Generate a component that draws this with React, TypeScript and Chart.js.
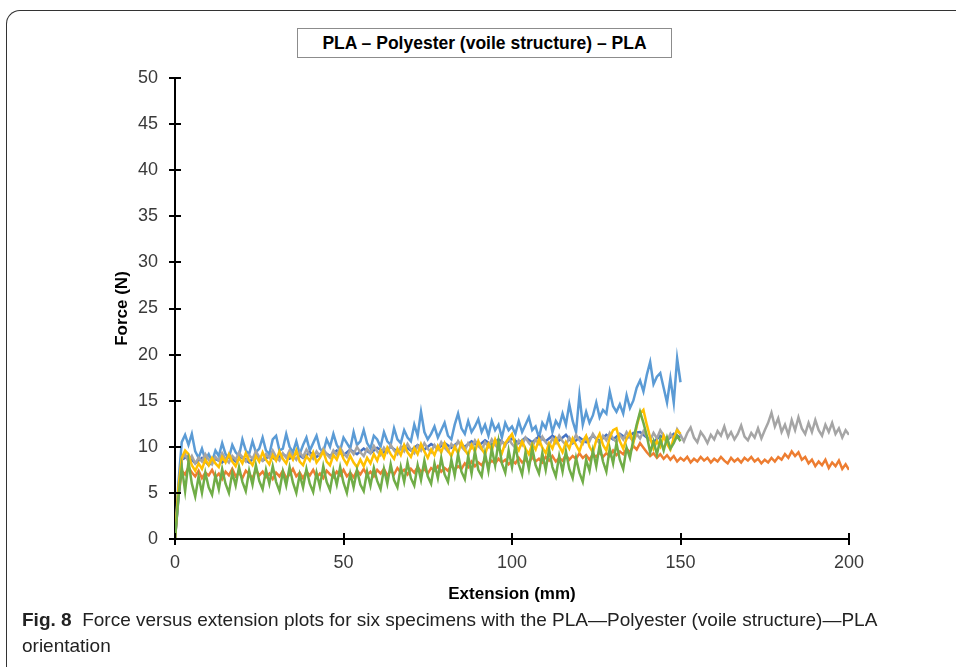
import React, { useEffect, useRef } from "react";
import { Chart, registerables } from "chart.js";

Chart.register(...registerables);

// Sampling step (mm) for each specimen's recorded force values
const STEP = 1;
const STEP_DARK = 2;

const xTicks = [0, 50, 100, 150, 200];
const yTicks = [0, 5, 10, 15, 20, 25, 30, 35, 40, 45, 50];

// Specimen 1 (light blue) 0..150 mm
const specimen1 = [
  0, 6, 10.5, 11.3, 10.2, 11.4, 9.5, 8.8, 9.8, 8.6,
  9.2, 8.4, 9.6, 9.0, 10.4, 9.2, 8.8, 10.2, 9.4, 9.0,
  10.8, 9.6, 9.2, 10.6, 9.4, 9.8, 11.0, 9.6, 9.2, 10.8,
  11.2, 9.6, 9.8, 11.4, 10.0, 9.4, 10.6, 9.2, 10.2, 11.0,
  9.6, 10.4, 11.2, 9.8, 9.4, 10.8, 10.0, 11.4, 10.2, 9.6,
  11.0, 10.4, 9.8, 11.6, 10.2, 10.6, 11.8, 10.4, 9.8, 11.2,
  10.8, 10.0, 11.6, 10.6, 10.2, 12.0, 10.8, 10.4, 11.8, 11.0,
  10.6, 12.4, 11.2, 13.8, 11.6, 10.8, 11.4, 12.2, 11.0, 11.8,
  12.6, 11.2, 10.8, 12.4, 13.6, 12.0, 11.4, 12.8, 11.6, 12.2,
  13.0, 11.6, 12.4, 11.2, 12.8, 11.8, 12.4, 11.0, 12.6, 11.8,
  12.2, 11.4, 12.8, 11.6, 12.4, 13.2, 11.8, 12.2, 11.0, 12.6,
  12.0, 13.4, 11.6, 12.8, 12.2, 13.6, 12.4, 14.6, 12.8, 11.6,
  15.6, 12.4, 13.8, 12.6, 13.4, 14.8, 13.2, 14.0, 13.6, 16.0,
  14.4, 13.8, 14.6, 13.6, 15.6, 14.2, 15.0, 16.4, 17.2, 16.0,
  17.8, 19.2, 16.8, 17.6, 18.0, 16.4, 14.8, 17.4, 14.8, 19.6,
  17.0,
];

// Specimen 2 (orange) 0..200 mm
const specimen2 = [
  0, 4.5, 7.4, 7.0, 7.8, 7.2, 6.8, 7.4, 6.6, 7.2,
  6.9, 7.5, 6.7, 7.1, 6.5, 7.3, 6.9, 7.6, 6.8, 7.2,
  6.6, 7.4, 7.0, 6.6, 7.5, 6.9, 7.3, 6.7, 7.1, 6.5,
  7.2, 6.8, 7.4, 6.6, 7.0, 7.6, 6.8, 7.2, 6.6, 7.3,
  6.9, 7.5, 6.7, 7.1, 6.6, 7.4, 7.0, 6.7, 7.3, 6.9,
  7.5, 6.8, 7.2, 6.7, 7.4, 7.0, 7.6, 6.9, 7.3, 6.8,
  7.5, 7.1, 7.6, 6.9, 7.4, 7.0, 7.7, 7.2, 7.5, 7.0,
  7.6, 7.2, 7.8, 7.3, 7.6, 7.1, 7.7, 7.4, 7.9, 7.3,
  7.7, 7.4, 8.0, 7.5, 7.9, 7.6, 8.2, 7.8, 8.4, 7.9,
  8.3, 8.0, 8.6, 8.1, 8.5, 8.2, 8.7, 8.3, 8.6, 8.1,
  8.5, 8.2, 8.8, 8.3, 8.6, 8.2, 8.9, 8.4, 8.7, 8.3,
  8.9, 8.5, 9.0, 8.4, 8.8, 8.5, 9.1, 8.6, 9.0, 8.7,
  9.3, 8.8, 9.1, 8.6, 9.2, 8.9, 9.4, 8.9, 9.3, 9.0,
  9.6, 9.1, 9.5, 9.2, 9.8, 9.4, 10.1, 9.7, 10.4, 9.9,
  9.4, 9.0, 9.3, 8.8, 9.2, 8.7, 9.1, 8.6, 9.0, 8.4,
  8.8, 8.5, 8.9, 8.3, 8.7, 8.4, 8.9, 8.5, 8.8, 8.3,
  8.7, 8.4, 8.9, 8.5, 8.2, 8.8, 8.4, 8.7, 8.3, 8.8,
  8.5, 8.9, 8.4, 8.7, 8.2, 8.6, 8.3, 8.8, 8.4, 8.9,
  8.6, 9.2, 8.8, 9.5, 9.0, 9.4, 8.6, 8.9, 8.2, 8.6,
  7.9, 8.4, 8.0, 8.6, 7.7, 8.3, 7.9, 8.5, 7.6, 8.1,
  7.5,
];

// Specimen 3 (grey) 0..200 mm
const specimen3 = [
  0, 5, 8.6, 9.2, 8.4, 9.0, 8.2, 8.8, 8.4, 9.2,
  8.6, 8.1, 8.9, 8.5, 9.3, 8.7, 8.3, 9.0, 8.6, 9.4,
  8.8, 8.4, 9.1, 8.7, 9.5, 8.9, 8.5, 9.2, 8.8, 9.6,
  8.9, 8.5, 9.3, 8.8, 9.6, 9.0, 8.6, 9.4, 8.9, 9.7,
  9.1, 8.7, 9.5, 9.0, 9.8, 9.2, 8.8, 9.6, 9.1, 9.9,
  9.3, 8.9, 9.7, 9.2, 10.0, 9.4, 9.0, 9.8, 9.3, 10.1,
  9.5, 9.1, 9.9, 9.4, 10.2, 9.6, 9.2, 10.0, 9.5, 10.3,
  9.7, 9.3, 10.1, 9.6, 10.4, 9.8, 9.4, 10.2, 9.7, 10.5,
  9.9, 9.5, 10.3, 9.8, 10.6, 10.0, 9.6, 10.4, 9.9, 10.7,
  10.1, 9.7, 10.5, 10.0, 10.8, 10.2, 9.8, 10.6, 10.1, 10.9,
  10.3, 9.9, 10.7, 10.2, 11.0, 10.4, 10.0, 10.8, 10.3, 11.1,
  10.5, 10.1, 10.9, 10.4, 11.2, 10.6, 10.2, 11.0, 10.5, 11.3,
  10.7, 10.3, 11.1, 10.6, 11.4, 10.8, 10.4, 11.2, 10.7, 11.5,
  10.9, 10.5, 11.3, 10.8, 11.6, 11.0, 10.6, 11.4, 10.9, 11.7,
  11.1, 10.7, 11.5, 10.9, 11.8, 11.2, 10.6, 11.4, 10.8, 11.9,
  11.3, 10.6, 11.5, 12.1, 11.0, 10.5, 11.6, 11.1, 10.4, 11.3,
  10.8, 11.7, 11.2, 12.2, 11.0, 11.6, 10.8, 11.4, 12.3, 11.1,
  10.7, 11.5, 11.0, 12.0, 10.9, 11.8, 12.6, 13.7, 12.2, 13.1,
  11.6, 12.4, 11.3, 12.9, 11.8, 13.2, 12.0, 11.4, 12.6, 11.6,
  12.9, 11.8, 11.2, 12.4, 11.6, 12.6, 11.4, 12.0, 11.0, 11.8,
  11.3,
];

// Specimen 4 (gold) 0..150 mm
const specimen4 = [
  0, 5.5, 8.8, 9.6, 9.2, 8.0, 7.4, 8.2, 7.6, 8.6,
  8.0, 8.8, 8.2, 7.8, 8.9, 8.3, 9.2, 8.4, 7.9, 8.8,
  8.2, 9.3, 8.5, 8.0, 9.0, 8.4, 9.4, 8.6, 8.1, 9.1,
  8.5, 9.5, 8.7, 8.2, 9.2, 8.6, 9.6, 8.4, 8.0, 9.0,
  8.5, 9.4, 8.3, 8.8, 9.5, 8.4, 8.0, 9.1, 8.6, 9.6,
  8.7, 8.1, 9.0, 8.3, 7.8, 8.6, 7.9, 8.8, 8.2, 9.2,
  8.5, 9.6, 8.8, 9.9, 9.2, 8.7, 9.8, 9.1, 10.2, 9.4,
  8.9, 9.9, 9.2, 10.3, 9.5, 8.8, 9.7, 9.1, 10.1, 9.4,
  10.4, 9.6, 9.0, 10.0, 9.3, 10.5, 9.7, 9.1, 10.2, 9.5,
  10.6, 9.8, 9.2, 10.3, 9.6, 10.8, 9.9, 9.3, 10.4, 10.9,
  11.4, 10.2, 9.6, 10.6, 9.8, 9.2, 10.3, 9.7, 10.8, 9.9,
  9.3, 10.4, 9.8, 10.9, 10.1, 9.4, 10.5, 9.8, 10.9, 10.2,
  9.5, 10.6, 11.2, 10.0, 9.4, 10.7, 11.4, 10.2, 9.6, 11.0,
  11.8, 12.0, 10.6, 9.8, 10.9, 11.6, 10.4, 12.2, 13.6, 14.0,
  12.4, 11.0, 9.8, 10.6, 10.0, 11.2, 10.3, 9.7, 11.0, 11.8,
  11.4,
];

// Specimen 5 (dark blue) 0..150 mm, every 2 mm
const specimen5 = [
  0, 8.6, 9.0, 8.2, 8.8, 8.0, 8.7, 8.3, 9.0, 8.4,
  8.9, 8.3, 9.1, 8.5, 9.0, 8.6, 9.2, 8.7, 9.3, 8.8,
  9.4, 8.9, 9.5, 9.0, 9.6, 9.1, 9.7, 9.2, 9.8, 9.3,
  9.9, 9.4, 10.0, 9.5, 10.1, 9.6, 10.2, 9.7, 10.3, 9.8,
  10.4, 9.9, 10.5, 10.0, 10.6, 10.1, 10.7, 10.2, 10.8, 10.3,
  10.9, 10.4, 11.0, 10.5, 11.1, 10.6, 11.2, 10.7, 11.3, 10.4,
  11.0, 10.5, 11.2, 10.6, 11.3, 10.8, 11.4, 10.9, 11.5, 11.6,
  11.0, 10.5, 11.2, 10.7, 11.4, 11.0,
];

// Specimen 6 (green) 0..150 mm
const specimen6 = [
  0, 4.5, 7.8, 5.2, 8.4, 6.0, 4.6, 6.8, 5.0, 7.2,
  5.6, 4.8, 6.9, 5.4, 7.6, 6.0, 5.0, 7.2, 5.8, 7.8,
  6.2, 5.2, 7.4, 5.9, 8.0, 6.3, 5.4, 7.5, 6.0, 7.9,
  6.2, 5.2, 7.3, 5.8, 7.8, 6.1, 5.0, 7.0, 5.6, 7.6,
  6.0, 5.1, 7.2, 5.7, 7.9, 6.2, 5.3, 7.4, 5.9, 7.8,
  6.1, 5.0, 7.1, 5.6, 7.5, 5.9, 5.2, 7.3, 5.8, 7.7,
  6.3, 5.4, 7.6, 6.0, 8.1, 6.4, 5.6, 7.8, 6.2, 8.3,
  6.6, 5.8, 8.0, 6.4, 8.5, 6.8, 6.0, 8.2, 6.6, 8.8,
  7.0, 6.2, 8.6, 6.9, 9.2, 7.3, 6.5, 9.0, 7.1, 9.5,
  7.5, 6.8, 9.3, 7.4, 9.8, 8.0, 10.6, 8.2, 7.2, 9.6,
  7.8, 10.2, 8.1, 7.0, 9.4, 7.6, 9.9, 8.0, 7.1, 9.3,
  7.5, 9.7, 7.8, 6.8, 9.0, 7.3, 9.5, 7.6, 6.6, 8.8,
  7.2, 6.2, 8.6, 7.4, 9.6, 7.9, 10.2, 8.4, 7.3, 9.8,
  8.2, 10.4, 8.6, 7.6, 9.9, 8.8, 10.8, 12.4, 13.8, 12.6,
  11.2, 9.4, 10.6, 9.2, 10.8, 9.6, 11.0, 9.8, 10.4, 11.2,
  10.6,
];

const FONT = "'Liberation Sans', Arial, sans-serif";

const toPoints = (vals: number[], step: number) =>
  vals.map((v, i) => ({ x: i * step, y: v }));

const crossTicks = {
  id: "crossTicks",
  afterDraw(chart: any) {
    const { ctx, scales } = chart;
    const x = scales.x;
    const y = scales.y;
    ctx.save();
    ctx.strokeStyle = "#000";
    ctx.lineWidth = 2;
    ctx.beginPath();
    yTicks.forEach((v) => {
      const py = Math.round(y.getPixelForValue(v));
      ctx.moveTo(x.left - 6, py);
      ctx.lineTo(x.left + 6, py);
    });
    xTicks.forEach((v) => {
      const px = Math.round(x.getPixelForValue(v));
      ctx.moveTo(px, y.bottom - 6);
      ctx.lineTo(px, y.bottom + 6);
    });
    ctx.stroke();
    ctx.restore();
  },
};

export default function App() {
  const ref = useRef<HTMLCanvasElement | null>(null);

  useEffect(() => {
    if (!ref.current) return;
    const mk = (label: string, vals: number[], step: number, color: string, order: number) => ({
      label,
      data: toPoints(vals, step),
      borderColor: color,
      backgroundColor: color,
      borderWidth: 2.5,
      pointRadius: 0,
      tension: 0,
      order,
    });
    const chart = new Chart(ref.current, {
      type: "line",
      data: {
        datasets: [
          mk("Specimen 6", specimen6, STEP, "#70AD47", 1),
          mk("Specimen 4", specimen4, STEP, "#FFC000", 2),
          mk("Specimen 3", specimen3, STEP, "#A5A5A5", 3),
          mk("Specimen 5", specimen5, STEP_DARK, "#4472C4", 4),
          mk("Specimen 2", specimen2, STEP, "#ED7D31", 5),
          mk("Specimen 1", specimen1, STEP, "#5B9BD5", 6),
        ],
      },
      options: {
        animation: false,
        responsive: false,
        maintainAspectRatio: false,
        layout: { padding: { left: 112, right: 107, top: 78, bottom: 62 } },
        plugins: {
          legend: { display: false },
          tooltip: { enabled: false },
          title: { display: false },
        },
        scales: {
          x: {
            type: "linear",
            min: 0,
            max: 200,
            afterFit: (s: any) => {
              s.height = 66;
            },
            afterBuildTicks: (s: any) => {
              s.ticks = xTicks.map((v) => ({ value: v }));
            },
            grid: { display: false, drawTicks: false },
            border: { display: true, color: "#000", width: 2 },
            ticks: {
              padding: 13,
              color: "#3a3a3a",
              font: { family: FONT, size: 18 },
            },
            title: {
              display: true,
              text: "Extension (mm)",
              color: "#000",
              padding: { top: 0, bottom: 0 },
              font: { family: FONT, size: 17, weight: "bold" },
            },
          },
          y: {
            type: "linear",
            min: 0,
            max: 50,
            afterFit: (s: any) => {
              s.width = 63;
            },
            afterBuildTicks: (s: any) => {
              s.ticks = yTicks.map((v) => ({ value: v }));
            },
            grid: { display: false, drawTicks: false },
            border: { display: true, color: "#000", width: 2 },
            ticks: {
              padding: 17,
              color: "#3a3a3a",
              font: { family: FONT, size: 18 },
            },
            title: {
              display: true,
              text: "Force (N)",
              color: "#000",
              padding: { top: 0, bottom: 0 },
              font: { family: FONT, size: 17, weight: "bold" },
            },
          },
        },
      },
      plugins: [crossTicks],
    } as any);
    return () => chart.destroy();
  }, []);

  return (
    <div
      style={{
        position: "absolute",
        left: 0,
        top: 0,
        width: 956,
        height: 667,
        overflow: "hidden",
        background: "#fff",
        fontFamily: FONT,
      }}
    >
      <div
        style={{
          position: "absolute",
          left: 6,
          top: 10,
          width: 1200,
          height: 900,
          borderTop: "1px solid #333",
          borderLeft: "1px solid #333",
          borderTopLeftRadius: 14,
          boxSizing: "border-box",
        }}
      />
      <canvas
        ref={ref}
        width={956}
        height={667}
        style={{ position: "absolute", left: 0, top: 0, width: 956, height: 667 }}
      />
      <div
        style={{
          position: "absolute",
          left: 297,
          top: 28,
          width: 375,
          height: 30,
          boxSizing: "border-box",
          border: "1px solid #8c8c8c",
          display: "flex",
          alignItems: "center",
          justifyContent: "center",
          fontWeight: "bold",
          fontSize: 17.5,
          color: "#000",
          background: "#fff",
        }}
      >
        PLA – Polyester (voile structure) – PLA
      </div>
      <div
        style={{
          position: "absolute",
          left: 22,
          top: 607,
          width: 930,
          fontSize: 19,
          lineHeight: "26px",
          color: "#222",
          whiteSpace: "nowrap",
        }}
      >
        <b>Fig. 8</b>&nbsp; Force versus extension plots for six specimens with the PLA—Polyester (voile structure)—PLA
        <br />
        orientation
      </div>
    </div>
  );
}
